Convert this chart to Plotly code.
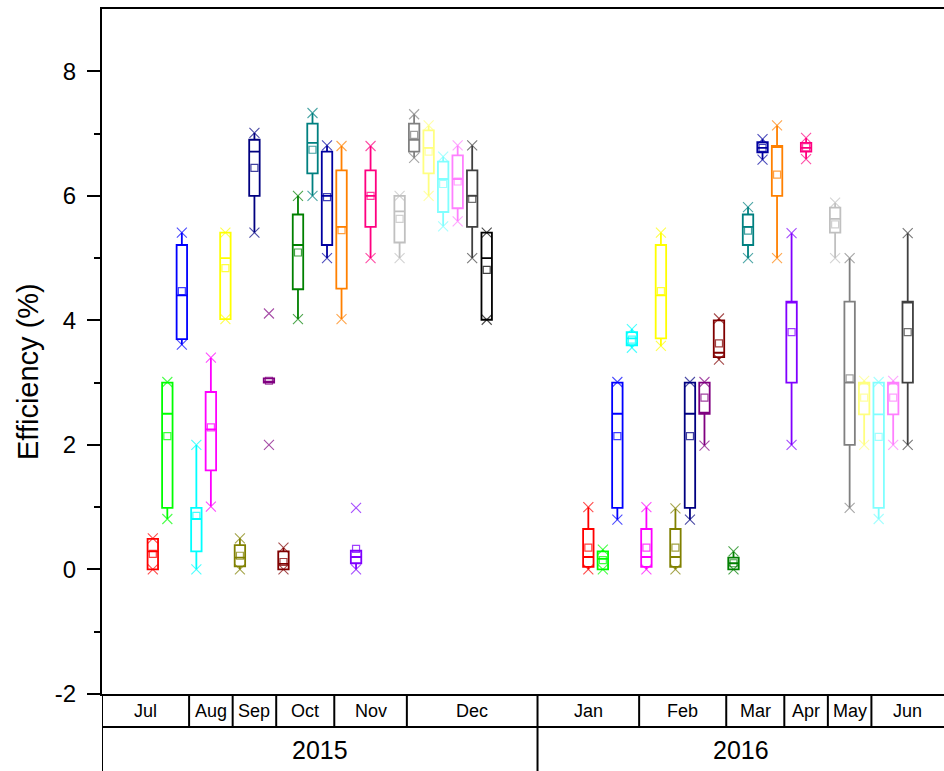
import plotly.graph_objects as go

# ---- data ----
positions = [1, 2, 3, 4, 5, 6, 7, 8, 9, 10, 11, 12, 13, 14, 15, 16, 18, 19, 20, 21, 22, 23, 24,
             31, 32, 33, 34, 35, 36, 37, 38, 39, 40, 41, 42, 43, 44, 45, 46, 48, 49, 50, 51, 52, 53]
lower = [0, 0.81, 3.61, 0, 1.01, 4.02, 0, 5.41, 3.0, 0, 4.02, 6.0, 5.0, 4.02, 0, 5.0, 5.0, 6.61, 6.0, 5.51, 5.59, 5.0, 4.01,
         0, 0, 0.8, 3.56, 0, 3.59, 0, 0.8, 1.99, 3.37, 0, 5.0, 6.58, 5.0, 2.0, 6.59, 5.0, 0.99, 2.0, 0.81, 2.0, 2.0]
q1 = [0, 0.99, 3.70, 0.29, 1.59, 4.02, 0.05, 6.0, 3.0, 0, 4.50, 6.36, 5.21, 4.51, 0.10, 5.50, 5.25, 6.71, 6.36, 5.74, 5.80, 5.50, 4.01,
      0.04, 0, 0.99, 3.60, 0.04, 3.71, 0.04, 0.99, 2.50, 3.41, 0, 5.21, 6.70, 6.0, 3.0, 6.71, 5.41, 2.0, 2.49, 0.99, 2.49, 3.0]
median = [0.29, 2.50, 4.40, 0.81, 2.25, 5.0, 0.19, 6.71, 3.0, 0.09, 5.21, 6.85, 6.0, 5.50, 0.20, 6.0, 5.75, 6.90, 6.77, 6.27, 6.27, 6.0, 5.0,
          0.20, 0.17, 2.50, 3.71, 0.20, 4.40, 0.20, 2.50, 2.50, 3.48, 0.10, 5.50, 6.77, 6.80, 4.30, 6.77, 5.63, 3.0, 3.0, 2.49, 3.0, 4.30]
q3 = [0.49, 3.0, 5.21, 0.99, 2.85, 5.41, 0.39, 6.90, 3.07, 0.29, 5.70, 7.16, 6.71, 6.41, 0.30, 6.41, 6.0, 7.16, 7.05, 6.55, 6.65, 6.41, 5.41,
      0.65, 0.29, 3.0, 3.81, 0.65, 5.21, 0.65, 3.0, 3.0, 4.0, 0.19, 5.70, 6.86, 6.80, 4.30, 6.85, 5.81, 4.30, 3.0, 3.0, 3.0, 4.30]
upper = [0.50, 3.01, 5.41, 2.0, 3.40, 5.41, 0.50, 7.01, 3.07, 0.35, 6.0, 7.33, 6.81, 6.80, 0.30, 6.80, 6.0, 7.31, 7.13, 6.63, 6.81, 6.81, 5.41,
         1.0, 0.32, 3.01, 3.86, 1.0, 5.41, 0.98, 3.01, 3.01, 4.03, 0.29, 5.82, 6.91, 7.13, 5.40, 6.93, 5.89, 5.0, 3.03, 3.01, 3.03, 5.40]
means = [0.25, 2.14, 4.47, 0.86, 2.28, 4.84, 0.22, 6.45, 3.03, 0.12, 5.09, 6.74, 5.98, 5.45, 0.33, 6.0, 5.63, 6.98, 6.71, 6.19, 6.23, 5.95, 4.81,
         0.35, 0.15, 2.14, 3.69, 0.35, 4.47, 0.35, 2.14, 2.76, 3.63, 0.10, 5.44, 6.77, 6.34, 3.81, 6.78, 5.54, 3.07, 2.76, 2.13, 2.76, 3.81]
minimum = [0, 0.81, 3.61, 0, 1.01, 4.02, 0, 5.41, 2.0, 0, 4.02, 6.0, 5.0, 4.02, 0, 5.0, 5.0, 6.61, 6.0, 5.51, 5.59, 5.0, 4.01,
           0, 0, 0.8, 3.56, 0, 3.59, 0, 0.8, 1.99, 3.37, 0, 5.0, 6.58, 5.0, 2.0, 6.59, 5.0, 0.99, 2.0, 0.81, 2.0, 2.0]
maximum = [0.50, 3.01, 5.41, 2.0, 3.40, 5.41, 0.50, 7.01, 4.11, 0.35, 6.0, 7.33, 6.81, 6.80, 0.99, 6.80, 6.0, 7.31, 7.13, 6.63, 6.81, 6.81, 5.41,
           1.0, 0.32, 3.01, 3.86, 1.0, 5.41, 0.98, 3.01, 3.01, 4.03, 0.29, 5.82, 6.91, 7.13, 5.40, 6.93, 5.89, 5.0, 3.03, 3.01, 3.03, 5.40]

palette = ["#FF0000", "#00FF00", "#0000FF", "#00FFFF", "#FF00FF", "#FFFF00", "#808000", "#000080",
           "#800080", "#800000", "#008000", "#008080", "#0000A0", "#FF8000", "#8000FF", "#FF0080",
           "#FFFFFF", "#C0C0C0", "#808080", "#FFFF80", "#80FFFF", "#FF80FF", "#404040", "#000000"]

months = ["Jul", "Aug", "Sep", "Oct", "Nov", "Dec", "Jan", "Feb", "Mar", "Apr", "May", "Jun"]
month_edges = [-2.5, 3.5, 6.5, 9.5, 13.5, 18.5, 27.5, 34.5, 40.5, 44.5, 47.5, 50.5, 55.5]
years = ["2015", "2016"]
year_edges = [-2.5, 27.5, 55.5]

y_tickvals = [-2, 0, 2, 4, 6, 8]
y_ticktext = ["-2", "0", "2", "4", "6", "8"]

FONT = "Liberation Sans, Arial, sans-serif"


def color_for(p):
    idx = (p - 1) if p <= 24 else (p - 31)
    return palette[idx]


def rgba(hexc, a):
    h = hexc.lstrip("#")
    return "rgba(%d,%d,%d,%.2f)" % (int(h[0:2], 16), int(h[2:4], 16), int(h[4:6], 16), a)


fig = go.Figure()
for i, p in enumerate(positions):
    c = color_for(p)
    fig.add_trace(go.Box(
        x=[p], q1=[q1[i]], median=[median[i]], q3=[q3[i]],
        lowerfence=[lower[i]], upperfence=[upper[i]],
        width=0.72, whiskerwidth=0, boxpoints=False,
        line=dict(color=c, width=1.8), fillcolor="rgba(255,255,255,0)",
        showlegend=False, hoverinfo="skip"))
    fig.add_trace(go.Scatter(
        x=[p, p], y=[minimum[i], maximum[i]], mode="markers",
        marker=dict(symbol="x-thin", size=10, line=dict(color=rgba(c, 0.7), width=1.1)),
        showlegend=False, hoverinfo="skip"))
    fig.add_trace(go.Scatter(
        x=[p], y=[means[i]], mode="markers",
        marker=dict(symbol="square-open", size=7, color=rgba(c, 0.75), line=dict(width=1.2)),
        showlegend=False, hoverinfo="skip"))

# ---- category table below the axis ----
plot_h = 694 - 9
row1 = -(727 - 694) / plot_h
row2 = -(771 - 694) / plot_h
shapes = []
for e in month_edges[1:-1]:
    shapes.append(dict(type="line", xref="x", yref="paper", x0=e, x1=e, y0=0, y1=row1,
                       line=dict(color="black", width=2)))
for e in year_edges[1:-1]:
    shapes.append(dict(type="line", xref="x", yref="paper", x0=e, x1=e, y0=row1, y1=row2,
                       line=dict(color="black", width=2)))
shapes.append(dict(type="line", xref="x", yref="paper", x0=-2.5, x1=-2.5, y0=0, y1=row2,
                   line=dict(color="black", width=2)))
shapes.append(dict(type="line", xref="x", yref="paper", x0=-2.5, x1=55.5, y0=row1, y1=row1,
                   line=dict(color="black", width=2)))

annotations = []
for j, m in enumerate(months):
    annotations.append(dict(x=(month_edges[j] + month_edges[j + 1]) / 2, y=-(711 - 694) / plot_h,
                            xref="x", yref="paper", text=m, showarrow=False,
                            font=dict(family=FONT, size=18, color="black"),
                            xanchor="center", yanchor="middle"))
for j, yv in enumerate(years):
    annotations.append(dict(x=(year_edges[j] + year_edges[j + 1]) / 2, y=-(750 - 694) / plot_h,
                            xref="x", yref="paper", text=yv, showarrow=False,
                            font=dict(family=FONT, size=25, color="black"),
                            xanchor="center", yanchor="middle"))
annotations.append(dict(x=(28 - 102) / 842, y=(694 - 372) / plot_h, xref="paper", yref="paper",
                        text="Efficiency (%)", textangle=-90, showarrow=False,
                        font=dict(family=FONT, size=29, color="black"),
                        xanchor="center", yanchor="middle"))

fig.update_layout(
    width=944, height=771,
    margin=dict(l=102, r=0, t=9, b=77),
    paper_bgcolor="white", plot_bgcolor="white",
    boxmode="overlay",
    shapes=shapes, annotations=annotations,
    xaxis=dict(range=[-2.5, 55.5], showticklabels=False, ticks="", showgrid=False, zeroline=False,
               showline=True, mirror=True, linecolor="black", linewidth=2),
    yaxis=dict(range=[-2, 9], tickmode="array", tickvals=y_tickvals, ticktext=y_ticktext,
               ticks="outside", ticklen=13, tickwidth=2,
               tickcolor="black", showgrid=False, zeroline=False, showline=True,
               linecolor="black", linewidth=2, ticklabelstandoff=6,
               tickfont=dict(family=FONT, size=24, color="black"),
               minor=dict(tickmode="array", tickvals=[-1, 1, 3, 5, 7], ticks="outside",
                          ticklen=6, tickwidth=2, tickcolor="black")),
)

fig.write_html("out.html")
